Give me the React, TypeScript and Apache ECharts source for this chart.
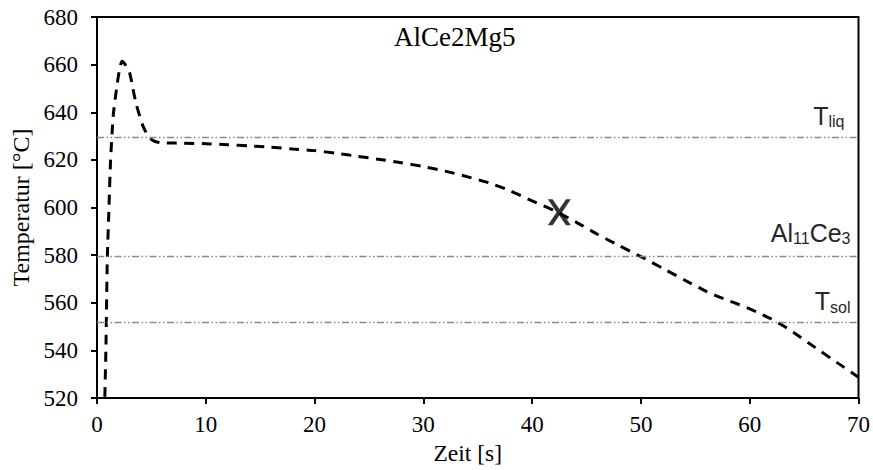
import React, { useEffect, useRef } from "react";
import * as echarts from "echarts";

const timeValues = [0.72, 0.82, 0.95, 1.1, 1.25, 1.5, 1.8, 2.05, 2.3, 2.55, 3.0, 3.3, 3.6, 4.2, 4.7, 5.2, 5.8, 6.5, 8, 10, 12, 14, 16, 18, 20, 22, 24, 26, 28, 30, 32, 34, 36, 38, 40, 42, 44, 46, 48, 50, 52, 54, 56, 57, 58, 59, 60, 61, 62, 63, 64, 66, 68, 70];
const tempValues = [520.5, 541, 579, 600, 620, 639, 650, 657.5, 661.4, 660.3, 656.5, 650, 643.5, 634.5, 630, 628, 627.2, 627.1, 627, 626.8, 626.4, 625.9, 625.3, 624.6, 623.9, 622.8, 621.5, 620.2, 618.8, 617.2, 615.3, 613, 610.4, 607, 602.8, 598.8, 594, 588.8, 584, 579.4, 574.5, 569.6, 564.8, 562.8, 561, 559.3, 557.5, 555.4, 553.2, 550.6, 547.6, 541.3, 535, 528.8];

const markerTime = [42.5];
const markerTemp = [598];

const refTemps = [629.7, 579.4, 551.8];
const refLabels = ["{m|T}{s|liq}", "{m|Al}{s|11}{m|Ce}{s|3}", "{m|T}{s|sol}"];
const refLabelDistance = [[14, 7], [8, 10], [8, 7]];

const xTicks = { min: 0, max: 70, interval: 10 };
const yTicks = { min: 520, max: 680, interval: 20 };

const titleText = "AlCe2Mg5";
const xName = "Zeit [s]";
const yName = "Temperatur [°C]";

const serif = "Liberation Serif";
const sans = "Liberation Sans";

export default function App() {
  const ref = useRef<HTMLDivElement>(null);
  useEffect(() => {
    if (!ref.current) return;
    const chart = echarts.init(ref.current, null, { renderer: "svg" });
    const lineData = timeValues.map((t, i) => [t, tempValues[i]]);
    const markerData = markerTime.map((t, i) => [t, markerTemp[i]]);
    const markLineData = refTemps.map((v, i) => ({
      yAxis: v,
      label: {
        formatter: refLabels[i],
        distance: refLabelDistance[i],
      },
    }));
    chart.setOption({
      animation: false,
      backgroundColor: "#fff",
      textStyle: { fontFamily: serif },
      title: {
        text: titleText,
        left: 389,
        top: 18,
        textStyle: { fontFamily: serif, fontSize: 27, fontWeight: "normal", color: "#000" },
      },
      grid: {
        left: 97,
        right: 12,
        top: 17,
        bottom: 69,
        show: true,
        borderColor: "#000",
        borderWidth: 2,
        backgroundColor: "transparent",
      },
      xAxis: {
        type: "value",
        min: xTicks.min,
        max: xTicks.max,
        interval: xTicks.interval,
        name: xName,
        nameLocation: "middle",
        nameGap: 40,
        nameTextStyle: { fontFamily: serif, fontSize: 23.5, color: "#000", padding: [0, 20, 0, 0] },
        axisLine: { show: true, onZero: false, lineStyle: { color: "#000", width: 2 } },
        axisTick: { show: true, inside: false, length: 6, lineStyle: { color: "#000", width: 2 } },
        axisLabel: { margin: 15, fontFamily: serif, fontSize: 23, color: "#000" },
        splitLine: { show: false },
      },
      yAxis: {
        type: "value",
        min: yTicks.min,
        max: yTicks.max,
        interval: yTicks.interval,
        name: yName,
        nameLocation: "middle",
        nameGap: 64,
        nameTextStyle: { fontFamily: serif, fontSize: 24, color: "#000" },
        axisLine: { show: true, lineStyle: { color: "#000", width: 2 } },
        axisTick: { show: true, inside: false, length: 6, lineStyle: { color: "#000", width: 2 } },
        axisLabel: { margin: 19, fontFamily: serif, fontSize: 23, color: "#000" },
        splitLine: { show: false },
      },
      series: [
        {
          type: "line",
          data: lineData,
          showSymbol: false,
          symbol: "none",
          smooth: 0.2,
          clip: true,
          lineStyle: { color: "#000", width: 3, type: [10, 7.5] },
          markLine: {
            silent: true,
            symbol: ["none", "none"],
            lineStyle: { color: "#8a8a8a", width: 1.3, type: [7, 2.5, 1.5, 2.5, 1.5, 2.5] },
            label: {
              show: true,
              position: "insideEndTop",
              color: "#262626",
              rich: {
                m: { fontFamily: sans, fontSize: 25, lineHeight: 28, color: "#262626" },
                s: { fontFamily: sans, fontSize: 16, lineHeight: 16, padding: [12, 0, 0, 0], color: "#262626" },
              },
            },
            emphasis: { disabled: true },
            data: markLineData,
          },
        },
        {
          type: "scatter",
          data: markerData,
          symbol: "path://M0,0 L4.2,0 L10,9.4 L15.8,0 L20,0 L12.4,12.5 L20,25 L15.8,25 L10,15.6 L4.2,25 L0,25 L7.6,12.5 Z",
          symbolSize: [23, 26],
          itemStyle: { color: "#000" },
          z: 5,
        },
      ],
    });
    return () => chart.dispose();
  }, []);
  return <div ref={ref} style={{ position: "fixed", left: 0, top: 0, width: 873, height: 470 }} />;
}
